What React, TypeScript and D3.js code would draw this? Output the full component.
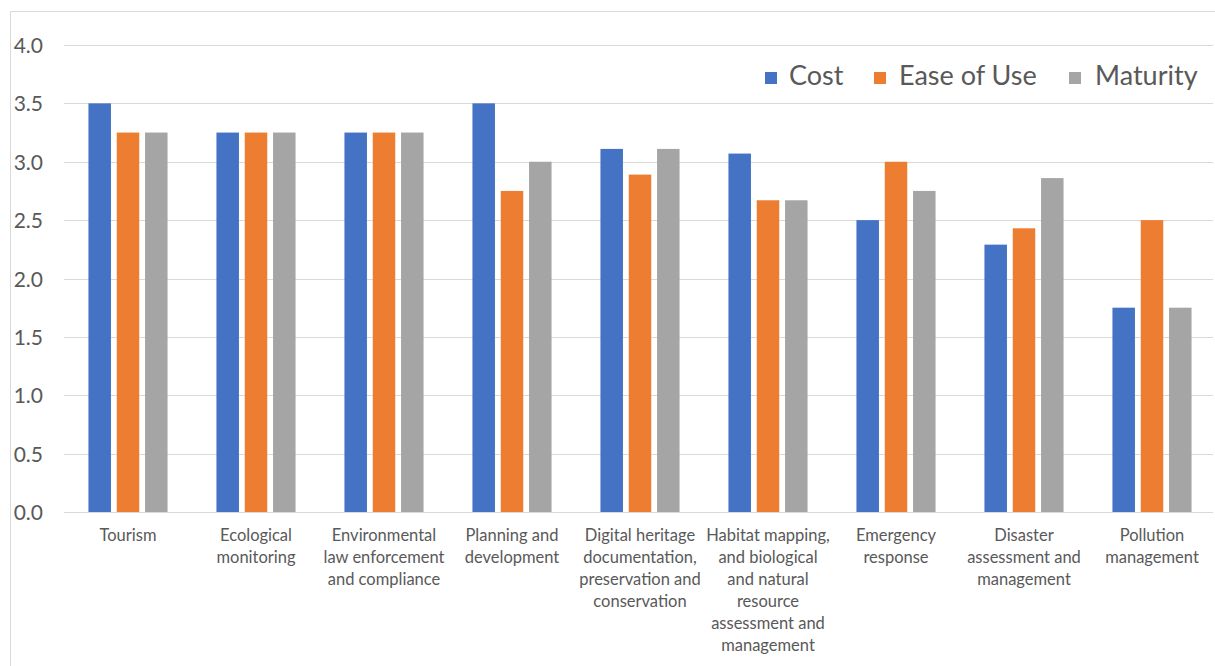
import React from "react";
import * as d3 from "d3";

const categories: string[] = [
  "Tourism",
  "Ecological monitoring",
  "Environmental law enforcement and compliance",
  "Planning and development",
  "Digital heritage documentation, preservation and conservation",
  "Habitat mapping, and biological and natural resource assessment and management",
  "Emergency response",
  "Disaster assessment and management",
  "Pollution management",
];

const categoryLines: string[][] = [
  ["Tourism"],
  ["Ecological", "monitoring"],
  ["Environmental", "law enforcement", "and compliance"],
  ["Planning and", "development"],
  ["Digital heritage", "documentation,", "preservation and", "conservation"],
  ["Habitat mapping,", "and biological", "and natural", "resource", "assessment and", "management"],
  ["Emergency", "response"],
  ["Disaster", "assessment and", "management"],
  ["Pollution", "management"],
];

const seriesNames: string[] = ["Cost", "Ease of Use", "Maturity"];
const costValues: number[] = [3.5, 3.25, 3.25, 3.5, 3.11, 3.07, 2.5, 2.29, 1.75];
const easeValues: number[] = [3.25, 3.25, 3.25, 2.75, 2.89, 2.67, 3.0, 2.43, 2.5];
const maturityValues: number[] = [3.25, 3.25, 3.25, 3.0, 3.11, 2.67, 2.75, 2.86, 1.75];
const yTicks: number[] = [0, 0.5, 1.0, 1.5, 2.0, 2.5, 3.0, 3.5, 4.0];
const colors: string[] = ["#4472C4", "#ED7D31", "#A5A5A5"];

const W = 1215;
const H = 666;
const FONT = "Lato, 'Open Sans', sans-serif";

export default function App() {
  const seriesValues = [costValues, easeValues, maturityValues];
  const y = d3.scaleLinear().domain([0, 4]).range([512, 45]);
  const x0 = d3.scaleBand<string>().domain(categories).range([64, 1216]).padding(0);
  const x1 = d3
    .scaleBand<string>()
    .domain(seriesNames)
    .range([0, x0.bandwidth()])
    .paddingInner(0.205)
    .paddingOuter(0.864);

  const legendItems = [
    { name: seriesNames[0], sx: 765, tx: 789 },
    { name: seriesNames[1], sx: 874, tx: 899 },
    { name: seriesNames[2], sx: 1069, tx: 1095 },
  ];

  return (
    <svg
      width={W}
      height={H}
      style={{ position: "absolute", left: 0, top: 0, background: "#fff" }}
      fontFamily={FONT}
    >
      <rect x={0} y={0} width={W} height={H} fill="#fff" />
      {/* chart frame */}
      <line x1={10.5} y1={11.5} x2={W} y2={11.5} stroke="#d9d9d9" />
      <line x1={10.5} y1={11.5} x2={10.5} y2={H} stroke="#d9d9d9" />

      {/* gridlines */}
      {yTicks.map((t) => (
        <line
          key={"g" + t}
          x1={64}
          x2={1213}
          y1={Math.round(y(t)) + 0.5}
          y2={Math.round(y(t)) + 0.5}
          stroke="#d9d9d9"
          strokeWidth={1}
        />
      ))}
      {/* y tick labels */}
      {yTicks.map((t) => (
        <text
          key={"t" + t}
          x={43}
          y={y(t) + 8}
          textAnchor="end"
          fontSize={21}
          fill="#595959"
        >
          {t.toFixed(1)}
        </text>
      ))}

      {/* bars */}
      {categories.map((c, i) =>
        seriesNames.map((s, j) => {
          const v = seriesValues[j][i];
          return (
            <rect
              key={c + s}
              x={(x0(c) as number) + (x1(s) as number)}
              y={y(v)}
              width={x1.bandwidth()}
              height={y(0) - y(v)}
              fill={colors[j]}
            />
          );
        })
      )}

      {/* category labels */}
      {categories.map((c, i) => (
        <text
          key={"c" + c}
          x={(x0(c) as number) + x0.bandwidth() / 2}
          y={541}
          textAnchor="middle"
          fontSize={16.5}
          fill="#595959"
        >
          {categoryLines[i].map((ln, k) => (
            <tspan key={k} x={(x0(c) as number) + x0.bandwidth() / 2} y={541 + k * 22}>
              {ln}
            </tspan>
          ))}
        </text>
      ))}

      {/* legend */}
      {legendItems.map((it, j) => (
        <g key={"l" + it.name}>
          <rect x={it.sx} y={72} width={12} height={12} fill={colors[j]} />
          <text x={it.tx} y={85} fontSize={27} fill="#595959">
            {it.name}
          </text>
        </g>
      ))}
    </svg>
  );
}
